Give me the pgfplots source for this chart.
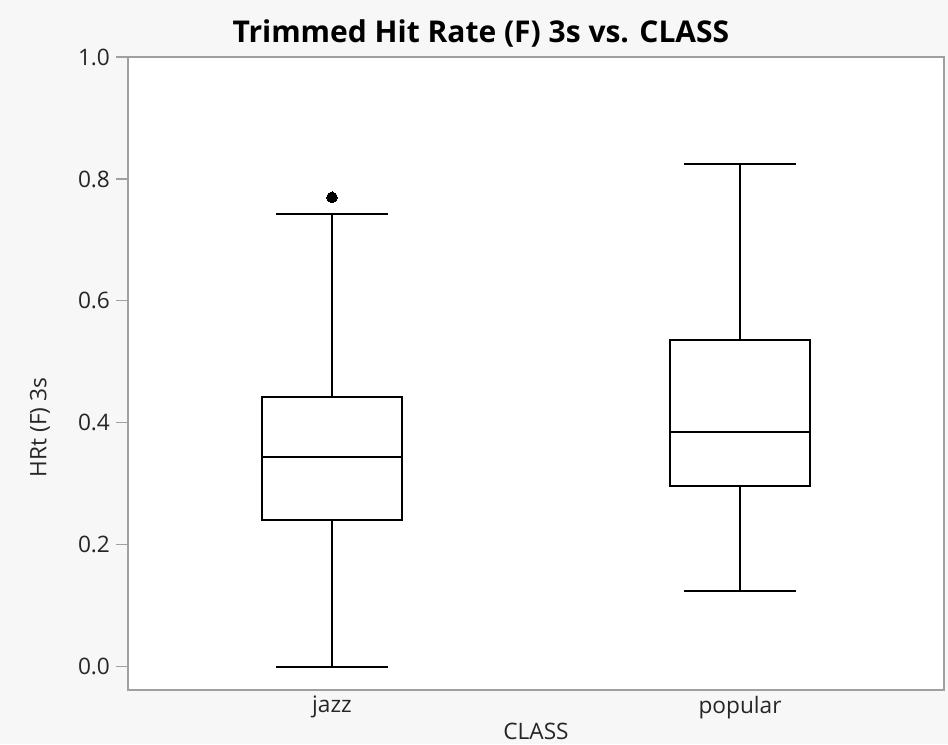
\documentclass[border=0pt]{standalone}
\usepackage{fontspec}
\setmainfont{Open Sans}
\usepackage{pgfplots}
\pgfplotsset{compat=1.18}
\usepgfplotslibrary{statistics}
\definecolor{bg}{HTML}{F7F7F7}
\definecolor{axgray}{HTML}{A0A0A0}
\definecolor{txt}{HTML}{262626}
\begin{document}
\begin{tikzpicture}[x=0.75pt,y=0.75pt]
\fill[bg] (-128,-54) rectangle (820,690);
\begin{axis}[
  at={(0,0)}, anchor=south west,
  scale only axis, width=612pt, height=474.75pt,
  xmin=-0.5, xmax=1.5, ymin=-0.038, ymax=1.0,
  axis background/.style={fill=white},
  axis line style={axgray, line width=0.9pt},
  xtick={0,1}, xticklabels={jazz,popular},
  ytick={0,0.2,0.4,0.6,0.8,1.0},
  /pgf/number format/fixed,
  /pgf/number format/fixed zerofill,
  /pgf/number format/precision=1,
  /pgf/number format/assume math mode=true,
  ticklabel style={font=\fontsize{17}{20}\selectfont, text=txt},
  tick style={axgray, line width=0.8pt},
  ytick align=outside, major tick length=9pt,
  x tick style={draw=none},
  tick pos=left,
  yticklabel style={xshift=-1pt},
  xticklabel style={yshift=-1pt},
  boxplot/draw direction=y,
  title={\bfseries Trimmed Hit Rate (F) 3s vs. CLASS},
  title style={at={(axis description cs:0.4325,1.024)}, anchor=center, font=\fontsize{22.5}{26}\selectfont, text=black},
  xlabel={CLASS},
  xlabel style={at={(axis description cs:0.5,-0.066)}, anchor=center, font=\fontsize{17}{20}\selectfont, text=txt},
  ylabel={HRt (F) 3s},
  ylabel style={at={(axis description cs:-0.108,0.415)}, anchor=center, font=\fontsize{17}{20}\selectfont, text=txt},
  clip=false,
]
\addplot+[black, line width=1.5pt, solid, mark=*, mark size=4pt, mark options={fill=black, draw=black, line width=0pt},
  boxplot prepared={draw position=0, lower whisker=0.0, lower quartile=0.241, median=0.344, upper quartile=0.443, upper whisker=0.743, box extend=0.343}]
  coordinates {(0,0.770)};
\addplot+[black, line width=1.5pt, solid, mark=*, mark size=4pt, mark options={fill=black, draw=black},
  boxplot prepared={draw position=1, lower whisker=0.125, lower quartile=0.297, median=0.385, upper quartile=0.536, upper whisker=0.825, box extend=0.343}]
  coordinates {};
\end{axis}
\end{tikzpicture}
\end{document}
